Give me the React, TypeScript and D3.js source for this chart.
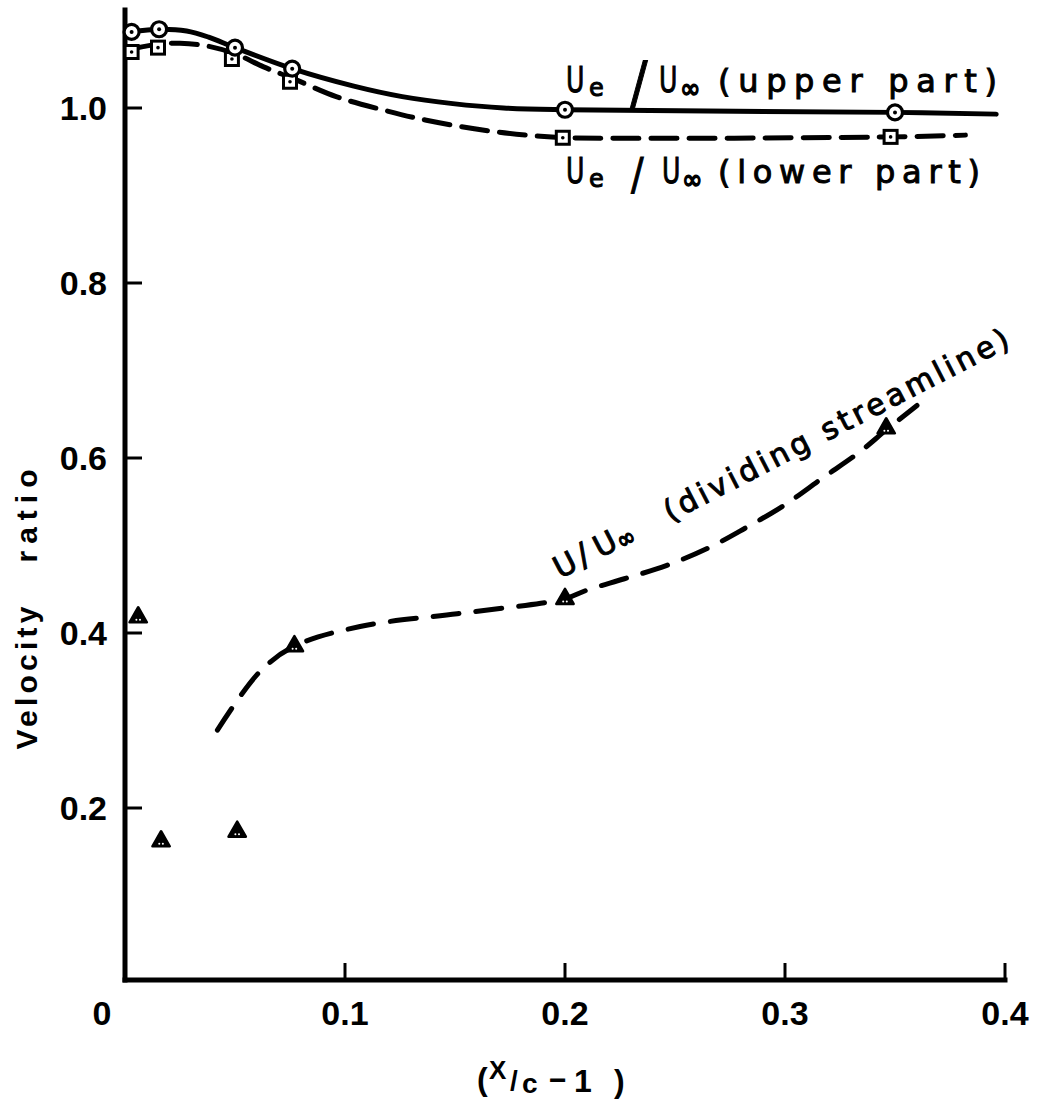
import React from "react";
import * as d3 from "d3";

// ---- data ----
const xTicks = [0, 0.1, 0.2, 0.3, 0.4];
const xTickLabels = ["0", "0.1", "0.2", "0.3", "0.4"];
const yTicks = [0.2, 0.4, 0.6, 0.8, 1.0];
const yTickLabels = ["0.2", "0.4", "0.6", "0.8", "1.0"];

// Ue/Uinf upper part (circles)
const upperX = [0.003, 0.0155, 0.05, 0.076, 0.2, 0.35];
const upperY = [1.087, 1.09, 1.069, 1.045, 0.998, 0.995];
// Ue/Uinf lower part (squares)
const lowerX = [0.003, 0.015, 0.0486, 0.075, 0.199, 0.348];
const lowerY = [1.064, 1.069, 1.056, 1.03, 0.966, 0.967];
// U/Uinf dividing streamline (triangles)
const divX = [0.006, 0.0164, 0.051, 0.077, 0.2, 0.346];
const divY = [0.418, 0.162, 0.173, 0.385, 0.439, 0.634];

// faired curves drawn through the data
const upperCurveX = [0.003, 0.0155, 0.028, 0.038, 0.05, 0.076, 0.104, 0.126, 0.149, 0.172, 0.2, 0.35, 0.396];
const upperCurveY = [1.087, 1.09, 1.088, 1.081, 1.069, 1.045, 1.025, 1.013, 1.005, 1.0, 0.998, 0.995, 0.993];
const lowerCurveX = [0.004, 0.0155, 0.025, 0.037, 0.05, 0.063, 0.077, 0.096, 0.117, 0.137, 0.165, 0.187, 0.2, 0.348, 0.382];
const lowerCurveY = [1.068, 1.073, 1.074, 1.071, 1.062, 1.047, 1.033, 1.013, 0.998, 0.986, 0.974, 0.968, 0.966, 0.967, 0.969];
const divCurveX = [0.042, 0.061, 0.077, 0.108, 0.151, 0.189, 0.2, 0.21, 0.227, 0.246, 0.265, 0.282, 0.299, 0.317, 0.334, 0.346, 0.36];
const divCurveY = [0.289, 0.355, 0.385, 0.408, 0.422, 0.434, 0.439, 0.449, 0.462, 0.477, 0.497, 0.52, 0.545, 0.577, 0.607, 0.632, 0.66];

const zip = (xs: number[], ys: number[]) => xs.map((x, i) => [x, ys[i]] as [number, number]);

function Glyph(props: { x: number; y: number; s: number; size: number; sw?: number; children: string }) {
  return (
    <text
      transform={`translate(${props.x},${props.y}) scale(${props.s},1)`}
      fontSize={props.size}
      strokeWidth={props.sw ?? 1}
    >
      {props.children}
    </text>
  );
}

export default function App() {
  const x = d3.scaleLinear().domain([0, 0.4]).range([125, 1005]);
  const y = d3.scaleLinear().domain([0, 1]).range([983, 108]);

  const line = d3
    .line<[number, number]>()
    .x((d) => x(d[0]))
    .y((d) => y(d[1]))
    .curve(d3.curveCatmullRom.alpha(0.5));

  const tri = d3.symbol(d3.symbolTriangle, 130)() as string;
  const tickFont = "'Liberation Sans', Arial, sans-serif";
  const lblFont = "'DejaVu Sans', sans-serif";
  const axisY = y(0) - 3;

  return (
    <svg
      width={1040}
      height={1101}
      style={{ position: "absolute", left: 0, top: 0, display: "block", background: "#fff" }}
    >
      {/* axes */}
      <line x1={x(0)} x2={x(0)} y1={y(1.112)} y2={axisY} stroke="#000" strokeWidth={5} strokeLinecap="square" />
      <line x1={x(0)} x2={x(0.4)} y1={axisY} y2={axisY} stroke="#000" strokeWidth={5} strokeLinecap="square" />
      {xTicks.slice(1).map((t) => (
        <line key={"xt" + t} x1={x(t)} x2={x(t)} y1={axisY} y2={axisY - 17} stroke="#000" strokeWidth={3} />
      ))}
      {yTicks.map((t) => (
        <line key={"yt" + t} x1={x(0)} x2={x(0) + 17} y1={y(t)} y2={y(t)} stroke="#000" strokeWidth={3} />
      ))}
      {xTicks.map((t, i) => (
        <text
          key={"xl" + t}
          x={t === 0 ? x(t) - 23 : x(t)}
          y={1025}
          textAnchor="middle"
          fontFamily={tickFont}
          fontWeight="bold"
          fontSize={34}
        >
          {xTickLabels[i]}
        </text>
      ))}
      {yTicks.map((t, i) => (
        <text
          key={"yl" + t}
          x={107}
          y={y(t) + 12}
          textAnchor="end"
          fontFamily={tickFont}
          fontWeight="bold"
          fontSize={34}
        >
          {yTickLabels[i]}
        </text>
      ))}

      {/* axis titles */}
      <text transform="translate(37,516) rotate(-90)" textAnchor="middle" fontFamily={tickFont} fontWeight="bold" fontSize={30} textLength={93} lengthAdjust="spacing">
        ratio
      </text>
      <text transform="translate(37,678) rotate(-90)" textAnchor="middle" fontFamily={tickFont} fontWeight="bold" fontSize={30} textLength={143} lengthAdjust="spacing">
        Velocity
      </text>
      <text fontFamily={tickFont} fontWeight="bold" fontSize={32}>
        <tspan x={477} y={1090}>(</tspan>
        <tspan x={489} y={1079} fontSize={26}>X</tspan>
        <tspan x={510} y={1090} fontSize={28}>/</tspan>
        <tspan x={522} y={1093} fontSize={28}>c</tspan>
        <tspan x={549} y={1090} fontSize={30}>−</tspan>
        <tspan x={574} y={1092}>1</tspan>
        <tspan x={614} y={1092}>)</tspan>
      </text>

      {/* curves */}
      <path d={line(zip(upperCurveX, upperCurveY)) as string} fill="none" stroke="#000" strokeWidth={5} strokeLinecap="round" />
      <path d={line(zip(lowerCurveX, lowerCurveY)) as string} fill="none" stroke="#000" strokeWidth={5} strokeDasharray="26 12" strokeLinecap="round" />
      <path d={line(zip(divCurveX, divCurveY)) as string} fill="none" stroke="#000" strokeWidth={5} strokeDasharray="26 17" strokeLinecap="round" />

      {/* markers */}
      {zip(lowerX, lowerY).map((d, i) => (
        <g key={"sq" + i} transform={`translate(${x(d[0])},${y(d[1])})`}>
          <rect x={-6.5} y={-6.5} width={13} height={13} fill="#fff" stroke="#000" strokeWidth={3} />
          <circle r={1.8} fill="#000" />
        </g>
      ))}
      {zip(upperX, upperY).map((d, i) => (
        <g key={"c" + i} transform={`translate(${x(d[0])},${y(d[1])})`}>
          <circle r={7.5} fill="#fff" stroke="#000" strokeWidth={3.2} />
          <circle r={2} fill="#000" />
        </g>
      ))}
      {zip(divX, divY).map((d, i) => (
        <g key={"t" + i} transform={`translate(${x(d[0])},${y(d[1])})`}>
          <path d={tri} fill="#000" stroke="#000" strokeWidth={2.5} strokeLinejoin="round" />
          <circle cx={-1.8} cy={2.5} r={1} fill="#fff" />
          <circle cx={1.8} cy={2.5} r={1} fill="#fff" />
        </g>
      ))}

      {/* curve labels */}
      <g fontFamily={lblFont} fill="#000" stroke="#000" strokeWidth={1}>
        <Glyph x={566} y={92} s={0.7} size={36}>U</Glyph>
        <Glyph x={589} y={96} s={1} size={24}>e</Glyph>
        <Glyph x={630} y={104} s={0.9} size={58}>/</Glyph>
        <Glyph x={659} y={92} s={0.7} size={36}>U</Glyph>
        <Glyph x={680} y={98} s={0.88} size={28} sw={1.6}>∞</Glyph>
        <text x={718} y={92} fontSize={32} textLength={279} lengthAdjust="spacing">(upper part)</text>

        <Glyph x={566} y={183} s={0.7} size={36}>U</Glyph>
        <Glyph x={589} y={187} s={1} size={24}>e</Glyph>
        <Glyph x={631} y={190} s={0.85} size={44}>/</Glyph>
        <Glyph x={662} y={183} s={0.7} size={36}>U</Glyph>
        <Glyph x={682} y={189} s={0.88} size={28} sw={1.6}>∞</Glyph>
        <text x={718} y={183} fontSize={32} textLength={262} lengthAdjust="spacing">(lower part)</text>

        <g transform="translate(560,579) rotate(-27.3)">
          <Glyph x={0} y={0} s={1} size={30}>U</Glyph>
          <Glyph x={26} y={0} s={1} size={32}>/</Glyph>
          <Glyph x={45} y={0} s={1} size={30}>U</Glyph>
          <Glyph x={68} y={3} s={0.85} size={26} sw={1.5}>∞</Glyph>
          <text x={124} y={0} fontSize={30} textLength={384} lengthAdjust="spacing">(dividing streamline)</text>
        </g>
      </g>
    </svg>
  );
}
